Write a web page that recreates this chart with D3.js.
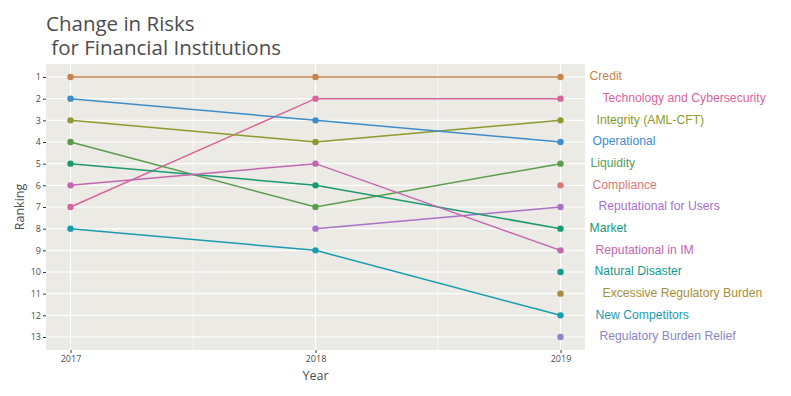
<!DOCTYPE html>
<html>
<head>
<meta charset="utf-8">
<script src="https://cdn.jsdelivr.net/npm/d3@7"></script>
<style>
  body { margin: 0; background: #fff; }
  svg { display: block; }
  .tick text { fill: #4d4d4d; }
</style>
</head>
<body>
<div id="vis"></div>
<script>
// data (rank per year, null = not ranked that year)
const years = [2017, 2018, 2019];
const risks = ["Credit", "Technology and Cybersecurity", "Integrity (AML-CFT)", "Operational",
  "Liquidity", "Compliance", "Reputational for Users", "Market", "Reputational in IM",
  "Natural Disaster", "Excessive Regulatory Burden", "New Competitors", "Regulatory Burden Relief"];
const rank2017 = [1, 7, 3, 2, 4, null, null, 5, 6, null, null, 8, null];
const rank2018 = [1, 2, 4, 3, 7, null, 8, 6, 5, null, null, 9, null];
const rank2019 = [1, 2, 3, 4, 5, 6, 7, 8, 9, 10, 11, 12, 13];
const rankTicks = [1, 2, 3, 4, 5, 6, 7, 8, 9, 10, 11, 12, 13];

const colors = ["#c8834f", "#d8659a", "#8e9a2e", "#3e8dc8", "#5a9d4f", "#d57a78", "#a870c8",
  "#1a9a72", "#c266b0", "#149a8e", "#a58f3a", "#1b9bb0", "#8c86c4"];
// label offsets from the 2019 point (repel-like)
const labelNudge = [29, 42, 36, 32, 30, 32, 38, 29, 35, 34, 42, 35, 39];

var w = 791, h = 396,
    m = {left: 46, top: 64, right: 206, bottom: 46},
    pw = w - m.left - m.right,
    ph = h - m.top - m.bottom;

var x = d3.scaleLinear().domain([2016.9, 2019.1]).range([0, pw]),
    y = d3.scaleLinear().domain([0.4, 13.6]).range([0, ph]);

const ranks = [rank2017, rank2018, rank2019];
const series = risks.map(function(name, i) {
  return {
    name: name,
    color: colors[i],
    nudge: labelNudge[i],
    values: years.map(function(yr, k) { return {year: yr, rank: ranks[k][i]}; })
      .filter(function(d) { return d.rank != null; })
  };
});

const svg = d3.select("#vis").append("svg")
    .attr("width", w)
    .attr("height", h);

// title, two lines
svg.selectAll(".title")
    .data(["Change in Risks", "\u00a0for Financial Institutions"])
  .enter().append("text")
    .attr("class", "title")
    .attr("x", m.left)
    .attr("y", function(d, i) { return 31 + i * 24; })
    .attr("font-family", "'Open Sans', sans-serif")
    .attr("font-size", 20.5)
    .attr("fill", "#4d4d4d")
    .text(function(d) { return d; });

const g = svg.append("g")
    .attr("transform", "translate(" + [m.left, m.top] + ")");

g.append("rect")
    .attr("width", pw)
    .attr("height", ph)
    .attr("fill", "#ebeae5");

// minor x grid
g.append("g").selectAll("line")
    .data([2017.5, 2018.5])
  .enter().append("line")
    .attr("x1", function(d) { return x(d); })
    .attr("x2", function(d) { return x(d); })
    .attr("y1", 0).attr("y2", ph)
    .attr("stroke", "#fff").attr("stroke-width", 0.6);

// major grid
g.append("g").selectAll("line")
    .data(rankTicks)
  .enter().append("line")
    .attr("x1", 0).attr("x2", pw)
    .attr("y1", function(d) { return y(d); })
    .attr("y2", function(d) { return y(d); })
    .attr("stroke", "#fff").attr("stroke-width", 1.2);

g.append("g").selectAll("line")
    .data(years)
  .enter().append("line")
    .attr("x1", function(d) { return x(d); })
    .attr("x2", function(d) { return x(d); })
    .attr("y1", 0).attr("y2", ph)
    .attr("stroke", "#fff").attr("stroke-width", 1.2);

// axes
const yAxis = g.append("g")
    .call(d3.axisLeft(y).tickValues(rankTicks).tickSize(3).tickPadding(2).tickFormat(d3.format("d")));
const xAxis = g.append("g")
    .attr("transform", "translate(0," + ph + ")")
    .call(d3.axisBottom(x).tickValues(years).tickSize(3).tickPadding(3).tickFormat(d3.format("d")));
[yAxis, xAxis].forEach(function(a) {
  a.select(".domain").remove();
  a.selectAll(".tick line").attr("stroke", "#333");
  a.selectAll(".tick text")
      .attr("font-family", "'Open Sans', sans-serif")
      .attr("font-size", 9);
});

svg.append("text")
    .attr("transform", "translate(21," + (m.top + ph / 2) + ") rotate(-90)")
    .attr("text-anchor", "middle")
    .attr("dominant-baseline", "middle")
    .attr("font-family", "'Open Sans', sans-serif")
    .attr("font-size", 12.5)
    .attr("fill", "#4d4d4d")
    .text("Ranking");

svg.append("text")
    .attr("x", m.left + pw / 2)
    .attr("y", 380)
    .attr("text-anchor", "middle")
    .attr("font-family", "'Open Sans', sans-serif")
    .attr("font-size", 12.5)
    .attr("fill", "#4d4d4d")
    .text("Year");

// lines and points
const line = d3.line()
    .x(function(d) { return x(d.year); })
    .y(function(d) { return y(d.rank); });

const s = g.selectAll(".series")
    .data(series)
  .enter().append("g")
    .attr("class", "series");

s.append("path")
    .attr("d", function(d) { return line(d.values); })
    .attr("fill", "none")
    .attr("stroke", function(d) { return d.color; })
    .attr("stroke-width", 1.5);

s.selectAll("circle")
    .data(function(d) { return d.values.map(function(v) { return {v: v, color: d.color}; }); })
  .enter().append("circle")
    .attr("cx", function(d) { return x(d.v.year); })
    .attr("cy", function(d) { return y(d.v.rank); })
    .attr("r", 3.2)
    .attr("fill", function(d) { return d.color; });

// labels at the last year
svg.append("g")
    .attr("transform", "translate(" + [m.left, m.top] + ")")
  .selectAll("text")
    .data(series)
  .enter().append("text")
    .attr("x", function(d) { return x(2019) + d.nudge; })
    .attr("y", function(d) { return y(d.values[d.values.length - 1].rank); })
    .attr("dominant-baseline", "middle")
    .attr("font-family", "'Liberation Sans', Arial, sans-serif")
    .attr("font-size", 12.2)
    .attr("fill", function(d) { return d.color; })
    .text(function(d) { return d.name; });
</script>
</body>
</html>
